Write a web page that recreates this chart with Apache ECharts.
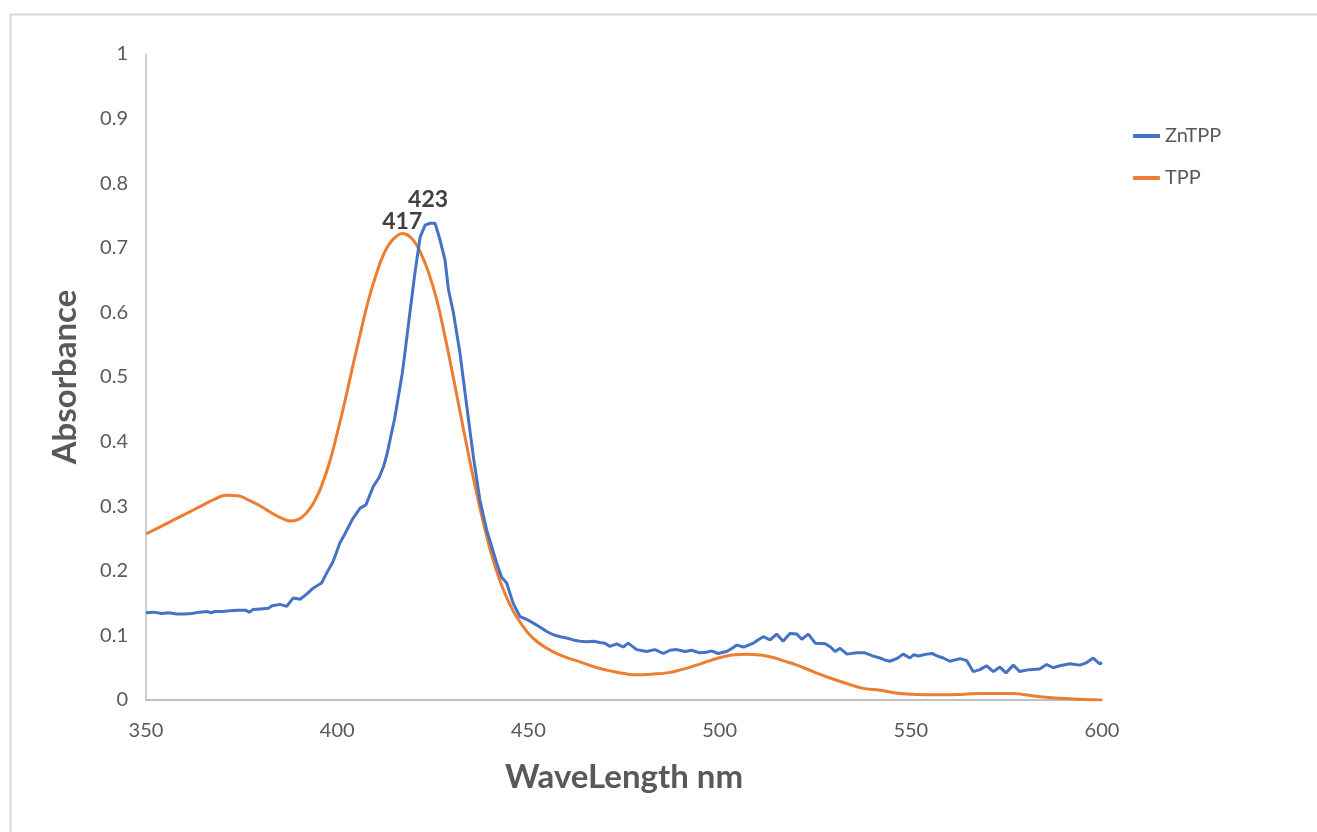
<!DOCTYPE html>
<html>
<head>
<meta charset="utf-8">
<script src="https://cdn.jsdelivr.net/npm/echarts@6/dist/echarts.min.js"></script>
<style>
html,body{margin:0;padding:0;background:#fff;}
#c{width:1317px;height:832px;}
</style>
</head>
<body>
<div id="c"></div>
<script>
// ZnTPP spectrum (wavelength nm, absorbance)
const znX = [350,352,354,356,358,360,362,364,366,367,368,370,372,374,376,377,378,380,382,383,385,386.8,388.5,390.3,392,393.7,395.9,397.2,398.9,400.7,402,404,406,407.5,409.4,411,412.1,413,413.8,415,416,417,417.7,419,420.3,421.7,423,424.3,425.6,426.9,428.2,429.1,430.4,432.1,433.9,435.6,437.3,439.1,441.7,443,444.3,446,447.8,449.5,451.3,453,454.8,456.5,458.3,460,461.7,463.5,465.2,467,468.7,470,471.3,473.1,474.8,476.1,478.3,480.9,483.1,485.3,487,488.8,491,492.7,494.8,496.5,497.9,499.6,500.1,501.8,503,504.5,506.3,508.8,510,511.4,513.2,514.9,516.6,518.4,520.2,521.5,523.2,525,527.6,529,530.2,531.5,533.3,535.9,538,540.2,541.9,543.2,544.5,546.3,548,549.8,550.7,552,554.2,555.5,557,558.5,560.2,562.9,564.6,566.3,568.1,569.8,571.6,573.3,574.9,576.8,578.5,580,581.1,583.7,585.5,587.2,589,591.6,594.2,596,597.7,599.4,600];
const znY = [0.135,0.136,0.134,0.135,0.133,0.133,0.134,0.136,0.137,0.135,0.137,0.137,0.138,0.139,0.139,0.136,0.140,0.141,0.142,0.146,0.148,0.145,0.158,0.156,0.164,0.173,0.181,0.196,0.214,0.243,0.257,0.280,0.297,0.302,0.330,0.345,0.361,0.380,0.402,0.435,0.470,0.505,0.537,0.599,0.660,0.717,0.735,0.738,0.738,0.712,0.681,0.635,0.599,0.537,0.454,0.377,0.310,0.263,0.212,0.190,0.181,0.150,0.129,0.125,0.119,0.113,0.106,0.101,0.098,0.096,0.093,0.091,0.090,0.091,0.089,0.088,0.083,0.087,0.082,0.088,0.078,0.075,0.078,0.072,0.077,0.078,0.075,0.077,0.073,0.074,0.076,0.072,0.071,0.075,0.079,0.085,0.082,0.088,0.093,0.098,0.093,0.102,0.091,0.103,0.102,0.094,0.102,0.088,0.087,0.082,0.075,0.080,0.071,0.073,0.073,0.068,0.065,0.062,0.060,0.064,0.071,0.065,0.070,0.068,0.071,0.072,0.068,0.065,0.060,0.064,0.061,0.044,0.047,0.053,0.044,0.051,0.042,0.054,0.044,0.046,0.047,0.048,0.055,0.050,0.053,0.056,0.054,0.058,0.065,0.056,0.058];
// TPP spectrum
const tppX = [350,355,360,365,368,371,374,377,380,383,386,388,390,392,394,396,398,400,402,404,406,408,410,412,414,416,417,418,420,422,424,426,428,430,432,434,436,438,440,442,444,446,448,451,454.8,459,463.5,468,472.2,475,478.3,482,486.2,490,494,497.5,501,504,507.1,510,513.2,516.5,520.2,524.5,528.9,533,537.6,542,546,550.7,555,559.4,564,568.1,572,576.8,580,583.8,588,594,600];
const tppY = [0.257,0.272,0.287,0.302,0.311,0.317,0.316,0.309,0.300,0.289,0.280,0.277,0.280,0.290,0.307,0.333,0.368,0.413,0.462,0.515,0.566,0.615,0.655,0.688,0.709,0.720,0.722,0.721,0.711,0.690,0.660,0.620,0.568,0.510,0.450,0.390,0.333,0.280,0.233,0.194,0.163,0.138,0.119,0.097,0.080,0.068,0.059,0.050,0.044,0.041,0.039,0.040,0.042,0.047,0.054,0.061,0.067,0.070,0.071,0.070,0.067,0.061,0.054,0.044,0.034,0.026,0.018,0.015,0.011,0.009,0.008,0.008,0.009,0.010,0.010,0.010,0.008,0.005,0.003,0.001,0.000];
// peak annotations
const znPeak = [424.3, 0.738], znPeakLabel = '423';
const tppPeak = [417, 0.722], tppPeakLabel = '417';
const seriesNames = ['ZnTPP', 'TPP'];
const xTitle = 'WaveLength nm';
const yTitle = 'Absorbance';

const FONT = 'Lato, "Open Sans", sans-serif';
const pairs = (xs, ys) => xs.map((x, i) => [x, ys[i]]);
function peakMark(coord, text, dist, dx) {
  return {
    symbol: 'circle', symbolSize: 1, silent: true,
    itemStyle: { color: 'rgba(0,0,0,0)' },
    label: { show: true, position: 'top', distance: dist, offset: [dx, 0], formatter: text,
      fontFamily: FONT, fontSize: 23, fontWeight: 'bold', color: '#404040' },
    data: [{ coord: coord }]
  };
}

const chart = echarts.init(document.getElementById('c'), null, { renderer: 'canvas' });
chart.setOption({
  backgroundColor: '#ffffff',
  animation: false,
  graphic: [{
    type: 'rect', left: 8, top: 12, silent: true,
    shape: { width: 1330, height: 840 },
    style: { fill: 'none', stroke: '#d9d9d9', lineWidth: 2 }
  }],
  grid: { left: 146, right: 215, top: 54, bottom: 132 },
  legend: {
    orient: 'vertical', left: 1128, top: 121,
    itemWidth: 27, itemHeight: 4, itemGap: 22,
    icon: 'roundRect',
    textStyle: { fontFamily: FONT, fontSize: 20, color: '#595959' },
    data: seriesNames
  },
  xAxis: {
    type: 'value', min: 350, max: 600, interval: 50,
    name: xTitle, nameLocation: 'middle', nameGap: 61,
    nameTextStyle: { fontFamily: FONT, fontSize: 33, fontWeight: 'bold', color: '#595959' },
    axisLine: { show: true, lineStyle: { color: '#bfbfbf', width: 2 } },
    axisTick: { show: false },
    splitLine: { show: false },
    axisLabel: { fontFamily: FONT, fontSize: 20, color: '#595959', margin: 21 }
  },
  yAxis: {
    type: 'value', min: 0, max: 1, interval: 0.1,
    name: yTitle, nameLocation: 'middle', nameGap: 64,
    nameTextStyle: { fontFamily: FONT, fontSize: 33, fontWeight: 'bold', color: '#595959' },
    axisLine: { show: true, lineStyle: { color: '#bfbfbf', width: 1.5 } },
    axisTick: { show: false },
    splitLine: { show: false },
    axisLabel: { fontFamily: FONT, fontSize: 20, color: '#595959', margin: 18,
      formatter: v => String(Math.round(v * 10) / 10) }
  },
  series: [
    {
      name: seriesNames[0], type: 'line', showSymbol: false, symbol: 'none',
      lineStyle: { color: '#4472C4', width: 3 }, itemStyle: { color: '#4472C4' },
      data: pairs(znX, znY), z: 3,
      markPoint: peakMark(znPeak, znPeakLabel, 12, -2)
    },
    {
      name: seriesNames[1], type: 'line', showSymbol: false, symbol: 'none', smooth: 0.5,
      lineStyle: { color: '#ED7D31', width: 3 }, itemStyle: { color: '#ED7D31' },
      data: pairs(tppX, tppY), z: 2,
      markPoint: peakMark(tppPeak, tppPeakLabel, 0, 0)
    }
  ]
});
</script>
</body>
</html>
